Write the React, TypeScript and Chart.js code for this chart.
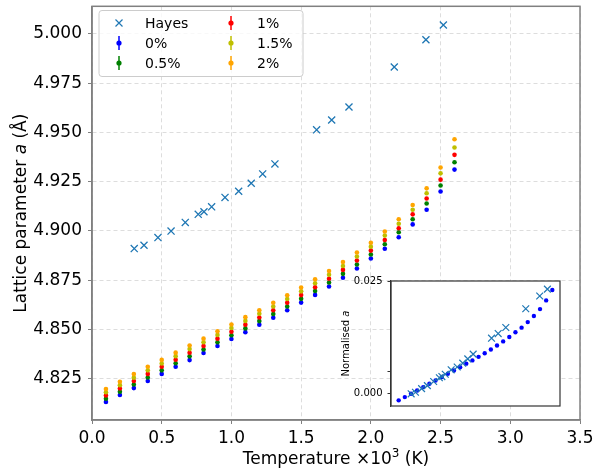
import React, { useEffect, useRef } from "react";
import { Chart, registerables } from "chart.js";

Chart.register(...registerables);

// ---------- data ----------
const temps = [0.1, 0.2, 0.3, 0.4, 0.5, 0.6, 0.7, 0.8, 0.9, 1.0, 1.1, 1.2, 1.3, 1.4, 1.5, 1.6, 1.7, 1.8, 1.9, 2.0, 2.1, 2.2, 2.3, 2.4, 2.5, 2.6];

const a0pct = [4.8132, 4.8167, 4.8202, 4.8238, 4.8274, 4.8310, 4.8344, 4.8380, 4.8416, 4.8451, 4.8486, 4.8524, 4.8559, 4.8597, 4.8636, 4.8675, 4.8718, 4.8762, 4.8809, 4.8860, 4.8909, 4.8968, 4.9033, 4.9107, 4.9200, 4.9311];
const a05pct = [4.8148, 4.8184, 4.8220, 4.8256, 4.8292, 4.8328, 4.8363, 4.8398, 4.8435, 4.8470, 4.8505, 4.8542, 4.8578, 4.8616, 4.8655, 4.8695, 4.8738, 4.8782, 4.8829, 4.8880, 4.8932, 4.8993, 4.9059, 4.9139, 4.9230, 4.9348];
const a1pct = [4.8165, 4.8200, 4.8238, 4.8274, 4.8310, 4.8346, 4.8381, 4.8416, 4.8453, 4.8488, 4.8524, 4.8560, 4.8597, 4.8635, 4.8674, 4.8714, 4.8757, 4.8802, 4.8850, 4.8900, 4.8954, 4.9013, 4.9084, 4.9164, 4.9260, 4.9386];
const a15pct = [4.8181, 4.8217, 4.8255, 4.8292, 4.8327, 4.8364, 4.8400, 4.8435, 4.8472, 4.8507, 4.8543, 4.8579, 4.8616, 4.8654, 4.8693, 4.8734, 4.8777, 4.8822, 4.8870, 4.8920, 4.8976, 4.9036, 4.9107, 4.9191, 4.9292, 4.9423];
const a2pct = [4.8197, 4.8234, 4.8273, 4.8310, 4.8345, 4.8382, 4.8418, 4.8453, 4.8490, 4.8525, 4.8562, 4.8597, 4.8635, 4.8673, 4.8712, 4.8754, 4.8796, 4.8842, 4.8890, 4.8940, 4.8997, 4.9059, 4.9131, 4.9216, 4.9322, 4.9465];

const hayesT = [0.303, 0.373, 0.473, 0.567, 0.669, 0.762, 0.803, 0.858, 0.954, 1.052, 1.142, 1.224, 1.312, 1.611, 1.719, 1.843, 2.168, 2.395, 2.520];
const hayesA = [4.8910, 4.8927, 4.8966, 4.8999, 4.9043, 4.9084, 4.9097, 4.9122, 4.9170, 4.9201, 4.9242, 4.9289, 4.9340, 4.9513, 4.9563, 4.9629, 4.9832, 4.9970, 5.0045];

const xTickValues = [0, 0.5, 1.0, 1.5, 2.0, 2.5, 3.0, 3.5];
const yTickValues = [4.825, 4.85, 4.875, 4.9, 4.925, 4.95, 4.975, 5.0];
const insetYTickValues = [0, 0.005, 0.025];
const insetYTickLabels = ["0.000", "", "0.025"];

const seriesLabels = ["0%", "0.5%", "1%", "1.5%", "2%"];
const seriesColors = ["#0000ff", "#008000", "#ff0000", "#bfbf00", "#ffa500"];
const seriesValues = [a0pct, a05pct, a1pct, a15pct, a2pct];
const hayesColor = "#1f77b4";

const FONT = "DejaVu Sans";

function pts(xs: number[], ys: number[]) {
  return xs.map((x, i) => ({ x, y: ys[i] }));
}

function normalised(xs: number[], ys: number[], refT: number) {
  const idx = xs.findIndex((t) => Math.abs(t - refT) < 0.01);
  const ref = ys[idx];
  return ys.map((v) => (v - ref) / ref);
}

const zeroPad = (s: any) => {
  s.paddingTop = 0;
  s.paddingBottom = 0;
  s.paddingLeft = 0;
  s.paddingRight = 0;
};

export default function App() {
  const mainRef = useRef<HTMLCanvasElement | null>(null);
  const insetRef = useRef<HTMLCanvasElement | null>(null);

  useEffect(() => {
    document.body.style.margin = "0";
    const mainCanvas = mainRef.current!;
    const insetCanvas = insetRef.current!;

    const boxPlugin = (color: string, width: number) => ({
      id: "boxPlugin",
      afterDraw(chart: any) {
        const { ctx, chartArea: ca } = chart;
        ctx.save();
        ctx.strokeStyle = color;
        ctx.lineWidth = width;
        ctx.strokeRect(ca.left, ca.top, ca.right - ca.left, ca.bottom - ca.top);
        ctx.restore();
      },
    });

    const titlesPlugin = {
      id: "titlesPlugin",
      afterDraw(chart: any) {
        const { ctx, chartArea: ca } = chart;
        ctx.save();
        ctx.fillStyle = "#000";
        const xParts = [
          { t: "Temperature \u00d710", f: `17px "${FONT}"` },
          { t: "3", f: `12px "${FONT}"`, sup: true },
          { t: " (K)", f: `17px "${FONT}"` },
        ];
        let total = 0;
        xParts.forEach((p) => {
          ctx.font = p.f;
          total += ctx.measureText(p.t).width;
        });
        let x = (ca.left + ca.right) / 2 - total / 2;
        const by = 464;
        ctx.textBaseline = "alphabetic";
        xParts.forEach((p: any) => {
          ctx.font = p.f;
          ctx.fillText(p.t, x, p.sup ? by - 7 : by);
          x += ctx.measureText(p.t).width;
        });
        const yParts = [
          { t: "Lattice parameter ", f: `17px "${FONT}"` },
          { t: "a", f: `italic 17px "${FONT}"` },
          { t: " (\u00c5)", f: `17px "${FONT}"` },
        ];
        total = 0;
        yParts.forEach((p) => {
          ctx.font = p.f;
          total += ctx.measureText(p.t).width;
        });
        ctx.translate(26, (ca.top + ca.bottom) / 2);
        ctx.rotate(-Math.PI / 2);
        x = -total / 2;
        yParts.forEach((p) => {
          ctx.font = p.f;
          ctx.fillText(p.t, x, 0);
          x += ctx.measureText(p.t).width;
        });
        ctx.restore();
      },
    };

    const legendPlugin = {
      id: "customLegend",
      afterDraw(chart: any) {
        const { ctx } = chart;
        const lx = 99, ly = 10.5, lw = 204, lh = 66;
        ctx.save();
        ctx.beginPath();
        ctx.roundRect(lx, ly, lw, lh, 3);
        ctx.fillStyle = "rgba(255,255,255,0.8)";
        ctx.fill();
        ctx.strokeStyle = "#cccccc";
        ctx.lineWidth = 1;
        ctx.stroke();
        const items = [
          { label: "Hayes", color: hayesColor, kind: "cross" },
          ...seriesLabels.map((l, i) => ({ label: l, color: seriesColors[i], kind: "err" })),
        ];
        const cols = [
          [items[0], items[1], items[2]],
          [items[3], items[4], items[5]],
        ];
        const mx = [119, 231];
        const tx = [145, 257];
        const rows = [23, 43, 63];
        ctx.font = `14px "${FONT}"`;
        ctx.textBaseline = "middle";
        cols.forEach((col, ci) => {
          col.forEach((it, ri) => {
            const cx = mx[ci];
            const cy = rows[ri];
            if (it.kind === "cross") {
              ctx.strokeStyle = it.color;
              ctx.lineWidth = 1.2;
              ctx.beginPath();
              ctx.moveTo(cx - 3.5, cy - 3.5);
              ctx.lineTo(cx + 3.5, cy + 3.5);
              ctx.moveTo(cx - 3.5, cy + 3.5);
              ctx.lineTo(cx + 3.5, cy - 3.5);
              ctx.stroke();
            } else {
              ctx.strokeStyle = it.color;
              ctx.lineWidth = 1.5;
              ctx.beginPath();
              ctx.moveTo(cx, cy - 7);
              ctx.lineTo(cx, cy + 7);
              ctx.stroke();
              ctx.fillStyle = it.color;
              ctx.beginPath();
              ctx.arc(cx, cy, 2.6, 0, Math.PI * 2);
              ctx.fill();
            }
            ctx.fillStyle = "#000";
            ctx.fillText(it.label, tx[ci], cy + 1);
          });
        });
        ctx.restore();
      },
    };

    const mainDatasets: any[] = [
      {
        label: "Hayes",
        data: pts(hayesT, hayesA),
        pointStyle: "crossRot",
        pointRadius: 5,
        borderColor: hayesColor,
        backgroundColor: hayesColor,
        pointBorderWidth: 1.3,
        showLine: false,
        order: 0,
      },
      ...seriesLabels.map((l, i) => ({
        label: l,
        data: pts(temps, seriesValues[i]),
        pointStyle: "circle",
        pointRadius: 2.3,
        pointBorderWidth: 0,
        borderColor: seriesColors[i],
        backgroundColor: seriesColors[i],
        showLine: false,
        order: 5 - i,
      })),
    ];

    const main = new Chart(mainCanvas, {
      type: "scatter",
      data: { datasets: mainDatasets },
      options: {
        animation: false,
        responsive: false,
        events: [],
        layout: { padding: { top: 4, right: 13, left: 0, bottom: 0 } },
        plugins: { legend: { display: false }, tooltip: { enabled: false } },
        scales: {
          x: {
            type: "linear",
            min: 0,
            max: 3.5,
            afterBuildTicks: (s: any) => {
              s.ticks = xTickValues.map((v) => ({ value: v }));
            },
            afterFit: (s: any) => {
              s.height = 55;
              zeroPad(s);
            },
            ticks: {
              font: { family: FONT, size: 17 },
              color: "#000",
              padding: 4,
              maxRotation: 0,
              autoSkip: false,
              callback: (v: any) => Number(v).toFixed(1),
            },
            grid: { color: "#dddddd", tickColor: "#808080", tickLength: 4, lineWidth: 1 },
            border: { display: true, color: "#808080", width: 1.5, dash: [4, 3] },
          },
          y: {
            type: "linear",
            min: 4.804,
            max: 5.014,
            afterBuildTicks: (s: any) => {
              s.ticks = yTickValues.map((v) => ({ value: v }));
            },
            afterFit: (s: any) => {
              s.width = 92;
              zeroPad(s);
            },
            ticks: {
              font: { family: FONT, size: 17 },
              color: "#000",
              padding: 6,
              autoSkip: false,
              callback: (v: any) => Number(v).toFixed(3),
            },
            grid: { color: "#dddddd", tickColor: "#808080", tickLength: 4, lineWidth: 1 },
            border: { display: true, color: "#808080", width: 1.5, dash: [4, 3] },
          },
        },
      },
      plugins: [boxPlugin("#808080", 1.5), titlesPlugin, legendPlugin],
    } as any);

    // ---------- inset ----------
    const insetBlue = normalised(temps, a0pct, 0.3);
    const insetHayes = normalised(hayesT, hayesA, 0.3);

    const insetBg = {
      id: "insetBg",
      beforeDraw(chart: any) {
        const { ctx, chartArea: ca } = chart;
        ctx.save();
        ctx.fillStyle = "#ffffff";
        ctx.fillRect(ca.left, ca.top, ca.right - ca.left, ca.bottom - ca.top);
        ctx.restore();
      },
    };
    const insetTitle = {
      id: "insetTitle",
      afterDraw(chart: any) {
        const { ctx, chartArea: ca } = chart;
        ctx.save();
        ctx.fillStyle = "#000";
        const parts = [
          { t: "Normalised ", f: `10px "${FONT}"` },
          { t: "a", f: `italic 10px "${FONT}"` },
        ];
        let total = 0;
        parts.forEach((p) => {
          ctx.font = p.f;
          total += ctx.measureText(p.t).width;
        });
        ctx.translate(19, (ca.top + ca.bottom) / 2);
        ctx.rotate(-Math.PI / 2);
        let x = -total / 2;
        ctx.textBaseline = "alphabetic";
        parts.forEach((p) => {
          ctx.font = p.f;
          ctx.fillText(p.t, x, 0);
          x += ctx.measureText(p.t).width;
        });
        ctx.restore();
      },
    };

    const inset = new Chart(insetCanvas, {
      type: "scatter",
      data: {
        datasets: [
          {
            label: "Hayes",
            data: pts(hayesT, insetHayes),
            pointStyle: "crossRot",
            pointRadius: 4.8,
            borderColor: hayesColor,
            backgroundColor: hayesColor,
            pointBorderWidth: 1.2,
            showLine: false,
            order: 0,
          },
          {
            label: "0%",
            data: pts(temps, insetBlue),
            pointStyle: "circle",
            pointRadius: 2.2,
            pointBorderWidth: 0,
            borderColor: seriesColors[0],
            backgroundColor: seriesColors[0],
            showLine: false,
            order: 1,
          },
        ],
      },
      options: {
        animation: false,
        responsive: false,
        events: [],
        layout: { padding: { top: 5, right: 5, left: 0, bottom: 5 } },
        plugins: { legend: { display: false }, tooltip: { enabled: false } },
        scales: {
          x: { type: "linear", min: -0.025, max: 2.725, display: false },
          y: {
            type: "linear",
            min: -0.0027,
            max: 0.025,
            afterBuildTicks: (s: any) => {
              s.ticks = insetYTickValues.map((v) => ({ value: v }));
            },
            afterFit: (s: any) => {
              s.width = 61;
              zeroPad(s);
            },
            ticks: {
              font: { family: FONT, size: 10 },
              color: "#000",
              padding: 5,
              autoSkip: false,
              callback: (v: any, i: number) => insetYTickLabels[i],
            },
            grid: { drawOnChartArea: false, tickColor: "#333333", tickLength: 3.5, color: "#333333" },
            border: { display: true, color: "#333333", width: 1.2 },
          },
        },
      },
      plugins: [insetBg, boxPlugin("#333333", 1.2), insetTitle],
    } as any);

    return () => {
      main.destroy();
      inset.destroy();
    };
  }, []);

  return (
    <div style={{ position: "relative", width: 593, height: 475, background: "#fff" }}>
      <canvas ref={mainRef} width={593} height={475} style={{ position: "absolute", left: 0, top: 0, width: 593, height: 475 }} />
      <canvas ref={insetRef} width={236} height={137} style={{ position: "absolute", left: 330, top: 275, width: 236, height: 137 }} />
    </div>
  );
}
